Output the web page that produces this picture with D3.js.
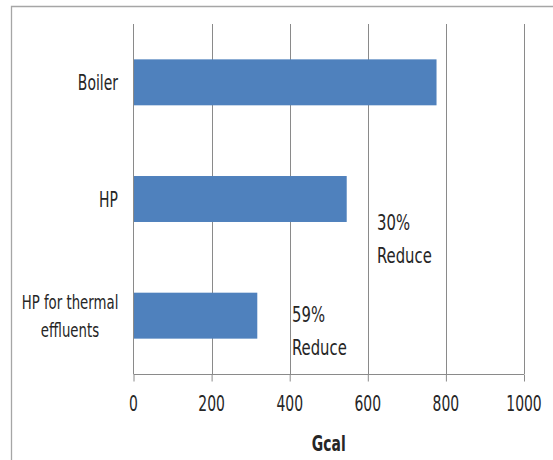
<!DOCTYPE html>
<html>
<head>
<meta charset="utf-8">
<script src="https://cdn.jsdelivr.net/npm/d3@7"></script>
<style>
  html, body { margin: 0; padding: 0; background: #fff; }
  svg { display: block; }
  text { font-family: "Liberation Sans Narrow", "DejaVu Sans Condensed", sans-serif; fill: #262626; }
</style>
</head>
<body>
<svg id="chart" width="553" height="460"></svg>
<script>
// Heat energy required per system (Gcal)
const categories = ["Boiler", "HP", "HP for thermal effluents"];
const values = [776, 546, 317];
const xTicks = [0, 200, 400, 600, 800, 1000];
const notes = [
  { after: "HP", lines: ["30%", "Reduce"] },
  { after: "HP for thermal effluents", lines: ["59%", "Reduce"] }
];

(function () {
  const svg = d3.select("#chart");
  const W = 553, H = 460;
  const plotL = 133.5, plotR = 524, plotT = 24, plotB = 374;

  // outer frame (left and top edges fall inside the canvas)
  svg.append("path")
    .attr("d", `M11.5,${H} L11.5,6.5 L${W},6.5`)
    .attr("fill", "none").attr("stroke", "#a6a6a6").attr("stroke-width", 1.3);

  const x = d3.scaleLinear().domain([0, 1000]).range([plotL, plotR]);
  const y = d3.scaleBand().domain(categories).range([plotT, plotB]).paddingInner(0.606).paddingOuter(0.303);

  const stretch = 1.32; // tall, narrow lettering
  function tallText(tx, ty, str, anchor, size, weight) {
    return svg.append("text")
      .attr("transform", `translate(${tx},${ty}) scale(1,${stretch})`)
      .attr("text-anchor", anchor)
      .attr("font-size", size)
      .attr("font-weight", weight || "normal")
      .text(str);
  }

  // vertical gridlines
  svg.append("g").selectAll("line").data(xTicks.slice(1)).join("line")
    .attr("x1", d => Math.round(x(d)) + 0.5).attr("x2", d => Math.round(x(d)) + 0.5)
    .attr("y1", plotT).attr("y2", plotB)
    .attr("stroke", "#8a8a8a").attr("stroke-width", 1);

  // bars
  svg.append("g").selectAll("rect").data(categories).join("rect")
    .attr("x", x(0))
    .attr("y", d => y(d))
    .attr("width", (d, i) => x(values[i]) - x(0))
    .attr("height", y.bandwidth())
    .attr("fill", "#4f81bd");

  // x axis
  const xAxis = d3.axisBottom(x).tickValues(xTicks).tickSize(7).tickFormat("");
  const gx = svg.append("g").attr("transform", `translate(0,${plotB + 0.5})`).call(xAxis);
  gx.select(".domain").attr("stroke", "#8a8a8a").attr("d", `M${plotL},0H${plotR}`);
  gx.selectAll(".tick line").attr("stroke", "#8a8a8a");
  xTicks.forEach(t => tallText(x(t), 411, String(t), "middle", 15.5));

  // y axis line
  svg.append("line")
    .attr("x1", plotL).attr("x2", plotL).attr("y1", plotT).attr("y2", plotB)
    .attr("stroke", "#8a8a8a");

  // category labels
  categories.forEach(c => {
    const cy = y(c) + y.bandwidth() / 2;
    const multi = c === "HP for thermal effluents";
    const words = multi ? ["HP for thermal", "effluents"] : [c];
    const lh = 28;
    words.forEach((w, i) => {
      const yy = cy + (i - (words.length - 1) / 2) * lh + 7.5;
      tallText(multi ? 70 : 118, yy, w, multi ? "middle" : "end", multi ? 14.8 : 15.5);
    });
  });

  // reduction notes
  const noteX = { "HP": 377, "HP for thermal effluents": 292 };
  const noteY = { "HP": 229.5, "HP for thermal effluents": 322 };
  notes.forEach(n => {
    n.lines.forEach((l, i) => tallText(noteX[n.after], noteY[n.after] + i * 33, l, "start", 16.5));
  });

  // axis title
  tallText((plotL + plotR) / 2, 450.5, "Gcal", "middle", 15.5, "bold");
})();
</script>
</body>
</html>
